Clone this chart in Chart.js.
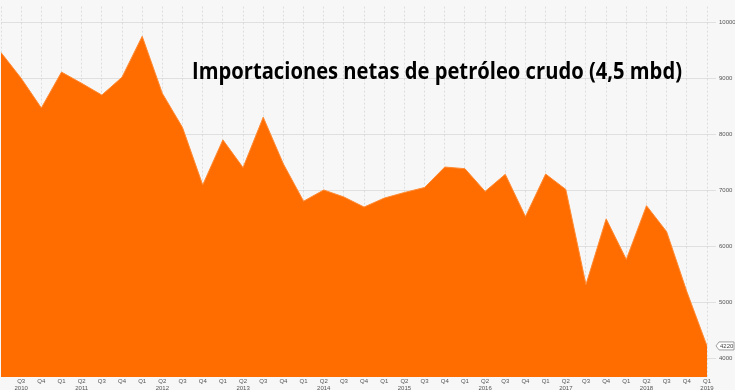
<!DOCTYPE html>
<html>
<head>
<meta charset="utf-8">
<script src="https://cdn.jsdelivr.net/npm/chart.js@4"></script>
<style>
  html, body { margin: 0; padding: 0; background: #f7f7f7; }
  canvas { display: block; }
</style>
</head>
<body>
<canvas id="chart" width="735" height="390"></canvas>
<script>
// quarters, Q2 2010 .. Q1 2019 (first label hidden, cut off in the original)
const quarters = ['', 'Q3', 'Q4', 'Q1', 'Q2', 'Q3', 'Q4', 'Q1', 'Q2', 'Q3', 'Q4',
  'Q1', 'Q2', 'Q3', 'Q4', 'Q1', 'Q2', 'Q3', 'Q4', 'Q1', 'Q2', 'Q3', 'Q4',
  'Q1', 'Q2', 'Q3', 'Q4', 'Q1', 'Q2', 'Q3', 'Q4', 'Q1', 'Q2', 'Q3', 'Q4', 'Q1'];
const years = ['', '2010', '', '', '2011', '', '', '', '2012', '', '',
  '', '2013', '', '', '', '2014', '', '', '', '2015', '', '',
  '', '2016', '', '', '', '2017', '', '', '', '2018', '', '', '2019'];

// net crude imports, thousand barrels/day
const imports = [9460, 9000, 8470, 9110, 8910, 8700, 9020, 9750, 8730, 8120, 7095,
  7900, 7405, 8305, 7470, 6805, 7005, 6880, 6700, 6860, 6960, 7050, 7415,
  7385, 6980, 7285, 6530, 7290, 7015, 5315, 6490, 5765, 6725, 6260, 5190, 4220];

const yTicks = [4000, 5000, 6000, 7000, 8000, 9000, 10000];
const titleText = 'Importaciones netas de petróleo crudo (4,5 mbd)';

const orange = '#ff6c00';
const gridColor = 'rgba(0,0,0,0.10)';

const overlay = {
  id: 'overlay',
  afterDraw(chart) {
    const ctx = chart.ctx;
    // title inside the plot
    ctx.save();
    ctx.font = 'bold 23px "Open Sans", sans-serif';
    ctx.fillStyle = '#000';
    ctx.textBaseline = 'alphabetic';
    const w = ctx.measureText(titleText).width;
    ctx.translate(192, 79);
    ctx.scale(490 / w, 1);
    ctx.fillText(titleText, 0, 0);
    ctx.restore();

    // last value badge
    const y = chart.scales.y.getPixelForValue(imports[imports.length - 1]);
    const x0 = 716, x1 = 734;
    ctx.save();
    ctx.beginPath();
    ctx.moveTo(x0, y);
    ctx.lineTo(x0 + 3, y - 4);
    ctx.lineTo(x1, y - 4);
    ctx.lineTo(x1, y + 4);
    ctx.lineTo(x0 + 3, y + 4);
    ctx.closePath();
    ctx.fillStyle = '#fff';
    ctx.fill();
    ctx.strokeStyle = '#888';
    ctx.lineWidth = 0.8;
    ctx.stroke();
    ctx.fillStyle = '#444';
    ctx.font = '6px "Liberation Sans", sans-serif';
    ctx.textBaseline = 'middle';
    ctx.fillText(String(imports[imports.length - 1]), x0 + 4, y + 0.5);
    ctx.restore();
  }
};

new Chart(document.getElementById('chart'), {
  type: 'line',
  data: {
    labels: quarters.map((q, i) => [q, years[i]]),
    datasets: [{
      data: imports,
      fill: 'start',
      backgroundColor: orange,
      borderColor: '#ff8a33',
      borderWidth: 1,
      pointRadius: 0,
      tension: 0
    }]
  },
  options: {
    responsive: false,
    animation: false,
    devicePixelRatio: 1,
    layout: { padding: 0 },
    plugins: { legend: { display: false }, tooltip: { enabled: false } },
    scales: {
      x: {
        offset: false,
        grid: { color: gridColor, drawTicks: false },
        border: { display: false, dash: [2, 2] },
        ticks: {
          autoSkip: false,
          maxRotation: 0,
          padding: 1,
          color: '#555',
          font: { family: 'Liberation Sans', size: 6, lineHeight: 1.15 }
        },
        afterFit: s => { s.height = 13; }
      },
      y: {
        position: 'right',
        min: 3665,
        max: 10280,
        afterBuildTicks: s => { s.ticks = yTicks.map(v => ({ value: v })); },
        grid: { color: 'rgba(0,0,0,0.09)', tickLength: 9 },
        border: { display: false },
        ticks: {
          padding: 3,
          color: '#555',
          font: { family: 'Liberation Sans', size: 6 },
          callback: v => String(v)
        },
        afterFit: s => { s.width = 28; }
      }
    }
  },
  plugins: [overlay]
});
</script>
</body>
</html>
